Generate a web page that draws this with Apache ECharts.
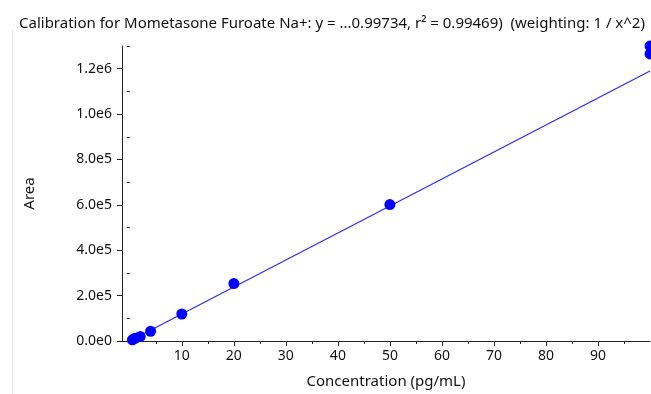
<!DOCTYPE html>
<html><head><meta charset="utf-8">
<script src="https://cdn.jsdelivr.net/npm/echarts@6/dist/echarts.min.js"></script>
<style>html,body{margin:0;padding:0;background:#fff}#c{width:651px;height:394px}</style>
</head><body><div id="c"></div>
<script>
const titleText = "Calibration for Mometasone Furoate Na+: y = ...0.99734, r\u00B2 = 0.99469)  (weighting: 1 / x^2)";
const concentrations = [0.5, 1, 2, 4, 10, 20, 50, 100, 100];
const areas = [5000, 12000, 20000, 43000, 119000, 253000, 601000, 1300000, 1265000];
const fitX = [0, 100];
const fitY = [0, 1190000];
const xMajorTicks = [10, 20, 30, 40, 50, 60, 70, 80, 90];
const xMinorTicks = [0, 5, 15, 25, 35, 45, 55, 65, 75, 85, 95];
const yTicks = [0, 200000, 400000, 600000, 800000, 1000000, 1200000];
const yMinorTicks = [100000, 300000, 500000, 700000, 900000, 1100000, 1300000];

const font = "'Segoe UI','Noto Sans',sans-serif";
const chart = echarts.init(document.getElementById('c'));
const pts = concentrations.map((x, i) => [x, areas[i]]);
const line = fitX.map((x, i) => [x, fitY[i]]);
const axisCol = '#222';
chart.setOption({
  animation: false,
  title: { text: titleText, left: 14, top: 11, textStyle: { fontFamily: font, fontSize: 15, fontWeight: 'normal', color: '#111' } },
  graphic: [{ type: 'line', shape: { x1: 12.5, y1: 30, x2: 12.5, y2: 394 }, style: { stroke: '#e4e4e4', lineWidth: 1 } }],
  grid: { left: 122, right: 1, top: 46, bottom: 50 },
  xAxis: [{
    type: 'value', min: -1.5, max: 100, position: 'bottom',
    name: 'Concentration (pg/mL)', nameLocation: 'middle', nameGap: 33,
    nameTextStyle: { fontFamily: font, fontSize: 15, color: '#111' },
    axisLine: { show: true, onZero: false, lineStyle: { color: axisCol } },
    axisTick: { show: true, length: 5, customValues: xMajorTicks, lineStyle: { color: axisCol } },
    axisLabel: { customValues: xMajorTicks, fontFamily: font, fontSize: 14, color: '#111', margin: 8 },
    splitLine: { show: false }
  }, {
    type: 'value', min: -1.5, max: 100, position: 'bottom',
    axisLine: { show: false },
    axisTick: { show: true, length: 3, customValues: xMinorTicks, lineStyle: { color: axisCol } },
    axisLabel: { show: false },
    splitLine: { show: false }
  }],
  yAxis: [{
    type: 'value', min: 0, max: 1300000, position: 'left',
    name: 'Area', nameLocation: 'middle', nameGap: 85,
    nameTextStyle: { fontFamily: font, fontSize: 15, color: '#111' },
    axisLine: { show: true, onZero: false, lineStyle: { color: axisCol } },
    axisTick: { show: true, length: 5, customValues: yTicks, lineStyle: { color: axisCol } },
    axisLabel: { customValues: yTicks, fontFamily: font, fontSize: 14, color: '#111', margin: 10,
      formatter: v => v.toExponential(1).replace('+', '') },
    splitLine: { show: false }
  }, {
    type: 'value', min: 0, max: 1300000, position: 'left',
    axisLine: { show: false },
    axisTick: { show: true, length: 3, customValues: yMinorTicks, lineStyle: { color: axisCol } },
    axisLabel: { show: false },
    splitLine: { show: false }
  }],
  series: [{
    type: 'line', data: line, xAxisIndex: 0, yAxisIndex: 0, symbol: 'none',
    lineStyle: { color: '#2a2aff', width: 1.2 }, z: 2
  }, {
    type: 'scatter', data: pts, xAxisIndex: 0, yAxisIndex: 0, symbolSize: 11, clip: false,
    itemStyle: { color: '#0000ff', opacity: 1 }, z: 3
  }]
});
</script></body></html>
